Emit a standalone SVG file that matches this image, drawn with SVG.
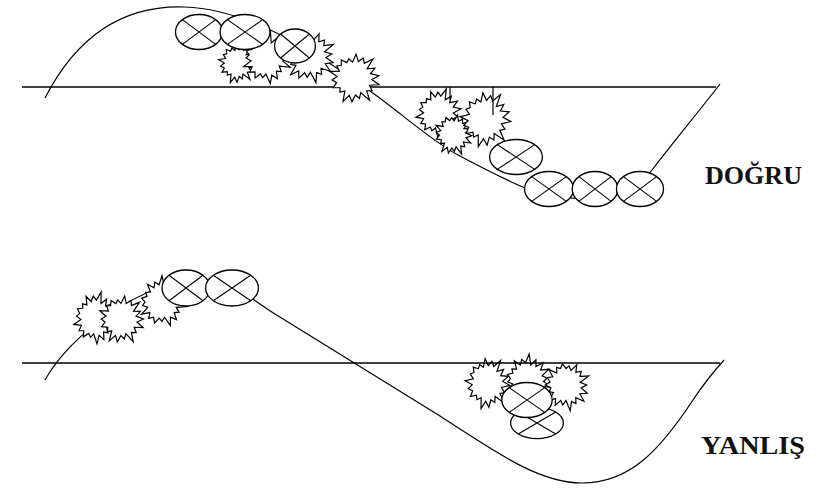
<svg xmlns="http://www.w3.org/2000/svg" xmlns:xlink="http://www.w3.org/1999/xlink" width="823" height="488" viewBox="0 0 823 488">
<style>
.axis{stroke:#000;stroke-width:1.5;fill:none}
.path{stroke:#000;stroke-width:1.2;fill:none}
.lbl{font-family:'Liberation Serif','Times New Roman',serif;font-weight:bold;font-size:25px;fill:#111}
</style>
<defs>
<polygon id="star" fill="#fff" stroke="#000" stroke-width="1.2" vector-effect="non-scaling-stroke" stroke-linejoin="miter" points="26,0 16.7,3 20.7,7.5 15.6,9 20.7,17.4 10.3,12.3 10.5,18.2 5.8,16 4.2,23.6 0,18 -4.5,25.6 -5.5,15 -10,17.3 -10.9,13 -17.6,14.8 -15.6,9 -20.7,7.5 -16.7,3 -25,0 -15.8,-2.8 -19.7,-7.2 -15.6,-9 -16.9,-14.1 -10.9,-13 -10,-17.3 -5.5,-15 -4.2,-23.6 0,-17 3.8,-21.7 6.2,-16.9 13.5,-23.4 10.3,-12.3 17.6,-14.8 14.7,-8.5 23.5,-8.6 17.7,-3.1"/>
<g id="ball">
<ellipse rx="24" ry="17" fill="#fff" stroke="#000" stroke-width="1.3" vector-effect="non-scaling-stroke"/>
<path d="M-17,-12 L17,12 M-17,12 L17,-12" fill="none" stroke="#000" stroke-width="1.1" vector-effect="non-scaling-stroke"/>
</g>
</defs>
<rect width="823" height="488" fill="#fff"/>

<!-- TOP: DOĞRU -->
<g id="top-track">
<line class="axis" x1="22" y1="87" x2="716" y2="87"/>
<path class="path" d="M45,98 C80,30 130,5 185,7 C250,9 320,55 370,91 C400,112 430,140 458,155 C490,172 510,182 530,190 C570,205 630,200 652,170 C675,140 700,110 720,84"/>
</g>
<g id="top-star-1"><use href="#star" transform="translate(237,63) scale(0.75,0.8) rotate(10)"/></g>
<g id="top-star-2"><use href="#star" transform="translate(266,58) scale(0.95,1.0) rotate(-20)"/></g>
<g id="top-star-3"><use href="#star" transform="translate(309,56) scale(1.0,1.02) rotate(35)"/></g>
<g id="top-ball-1"><use href="#ball" transform="translate(199,32) scale(0.98,1.03)"/></g>
<g id="top-ball-2"><use href="#ball" transform="translate(245,32) scale(1.04,1.03)"/></g>
<g id="top-ball-3"><use href="#ball" transform="translate(295,46) scale(0.85,1)"/></g>
<g id="top-star-4"><use href="#star" transform="translate(354,78) scale(1.0) rotate(15)"/></g>

<g id="mid-star-1"><use href="#star" transform="translate(438,113) scale(0.9,0.95) rotate(-10)"/></g>
<g id="mid-star-2"><use href="#star" transform="translate(453,134) scale(0.75,0.82) rotate(25)"/></g>
<g id="mid-star-3"><use href="#star" transform="translate(485,119) scale(1.0,1.1) rotate(5)"/></g>
<g id="ticks">
<line class="path" x1="450" y1="87" x2="450" y2="100"/>
<line class="path" x1="493" y1="87" x2="493" y2="115"/>
</g>
<g id="mid-ball"><use href="#ball" transform="translate(516,157) scale(1.1,1.03)"/></g>
<g id="bottom-ball-1"><use href="#ball" transform="translate(549,189) scale(1.02,1.03)"/></g>
<g id="bottom-ball-2"><use href="#ball" transform="translate(595,189) scale(0.95,1.03)"/></g>
<g id="bottom-ball-3"><use href="#ball" transform="translate(640,189) scale(0.98,1.03)"/></g>
<g id="label-dogru"><text class="lbl" x="705" y="184" textLength="97" lengthAdjust="spacingAndGlyphs">DOĞRU</text></g>

<!-- BOTTOM: YANLIŞ -->
<g id="bottom-track">
<path class="path" d="M45,380 C70,335 140,282 200,280 C232,281 250,298 275,314 L440,416 C500,455 540,483 582,483 C630,483 660,450 693,400 C705,382 715,370 724,360"/>
</g>
<g id="left-star-1"><use href="#star" transform="translate(95,318) scale(0.88,1.0) rotate(-15)"/></g>
<g id="left-star-2"><use href="#star" transform="translate(121,319) scale(0.9,0.97) rotate(20)"/></g>
<g id="left-star-3"><use href="#star" transform="translate(162,302) scale(0.94,0.97) rotate(-30)"/></g>
<g id="left-ball-1"><use href="#ball" transform="translate(186,288) scale(1,1.06)"/></g>
<g id="left-ball-2"><use href="#ball" transform="translate(232,288) scale(1.1,1.06)"/></g>
<g id="right-star-1"><use href="#star" transform="translate(487,383) scale(0.88,1.02) rotate(5)"/></g>
<g id="right-star-2"><use href="#star" transform="translate(527,380) scale(0.92,0.97) rotate(-25)"/></g>
<g id="right-star-3"><use href="#star" transform="translate(566,385) scale(0.9,0.97) rotate(40)"/></g>
<g id="bottom-line"><line class="axis" x1="22" y1="363" x2="720" y2="363"/></g>
<g id="right-ball-2"><use href="#ball" transform="translate(537,423) scale(1.1,0.92)"/></g>
<g id="right-ball-1"><use href="#ball" transform="translate(527,400) scale(1.05,1.03)"/></g>
<g id="label-yanlis"><text class="lbl" x="701" y="454" textLength="104" lengthAdjust="spacingAndGlyphs">YANLIŞ</text></g>
</svg>
